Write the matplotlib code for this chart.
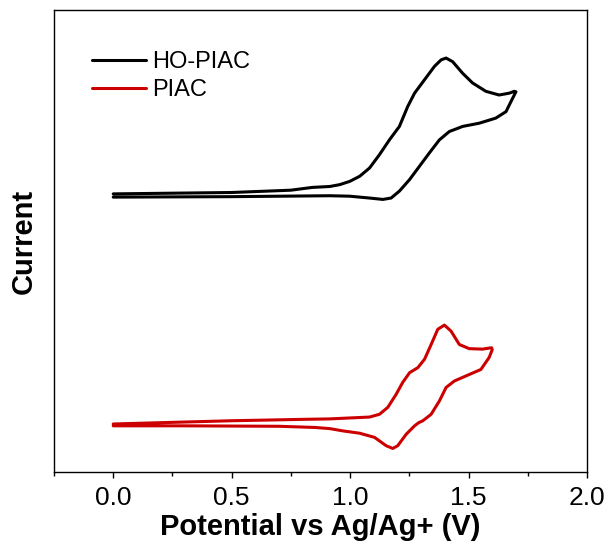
import matplotlib.pyplot as plt
from matplotlib.ticker import MultipleLocator

plt.rcParams['font.family'] = ['Liberation Sans', 'DejaVu Sans']

# HO-PIAC cyclic voltammogram (forward sweep then reverse), current in a.u.
ho_v = [0.0, 0.5, 0.75, 0.84, 0.914, 0.956, 0.998, 1.040, 1.082, 1.124, 1.166,
        1.208, 1.243, 1.272, 1.314, 1.356, 1.384, 1.405, 1.433, 1.475, 1.517,
        1.573, 1.629, 1.672, 1.693, 1.70,
        1.686, 1.658, 1.615, 1.545, 1.475, 1.419, 1.377, 1.335, 1.293, 1.251,
        1.208, 1.173, 1.138, 1.082, 0.998, 0.914, 0.5, 0.0]
ho_i = [60.2, 60.5, 61.0, 61.6, 61.8, 62.2, 62.9, 64.0, 65.8, 68.7, 71.9,
        74.8, 79.1, 82.0, 84.9, 87.8, 89.2, 89.6, 88.8, 86.3, 84.2,
        82.4, 81.6, 82.0, 82.4, 82.3,
        80.9, 78.0, 76.6, 75.5, 74.8, 73.7, 71.9, 69.1, 66.2, 63.3,
        60.8, 59.3, 59.0, 59.3, 59.7, 59.8, 59.6, 59.5]

# PIAC cyclic voltammogram
piac_v = [0.0, 0.5, 0.8, 0.914, 0.998, 1.082, 1.124, 1.159, 1.194, 1.222, 1.251,
          1.286, 1.314, 1.342, 1.370, 1.398, 1.426, 1.461, 1.503, 1.559, 1.597,
          1.60,
          1.587, 1.552, 1.489, 1.440, 1.405, 1.377, 1.342, 1.307, 1.290, 1.272,
          1.237, 1.201, 1.180, 1.152, 1.103, 1.040, 0.970, 0.914, 0.85, 0.7,
          0.3, 0.0]
piac_i = [10.4, 11.1, 11.4, 11.5, 11.7, 11.9, 12.5, 14.0, 16.8, 19.4, 21.5,
          22.6, 24.4, 27.6, 30.9, 31.8, 30.5, 27.6, 26.7, 26.6, 26.9,
          26.5,
          24.8, 22.2, 20.8, 19.7, 18.3, 15.4, 12.5, 11.1, 10.7, 10.0,
          8.2, 5.7, 5.1, 5.7, 7.5, 8.4, 8.9, 9.4, 9.65, 9.9,
          10.0, 10.0]

fig = plt.figure(figsize=(6.09, 5.49), dpi=100)
ax = fig.add_axes([0.0887, 0.1402, 0.8752, 0.8416])

ax.plot(ho_v, ho_i, color='black', lw=2.2, solid_joinstyle='round',
        solid_capstyle='round', label='HO-PIAC')
ax.plot(piac_v, piac_i, color='#cc0000', lw=2.2, solid_joinstyle='round',
        solid_capstyle='round', label='PIAC')

ax.set_xlim(-0.25, 2.0)
ax.set_ylim(0, 100)
ax.xaxis.set_major_locator(MultipleLocator(0.5))
ax.xaxis.set_minor_locator(MultipleLocator(0.25))
ax.set_yticks([])
ax.tick_params(axis='x', which='major', direction='out', length=4, width=1.0,
               labelsize=19, pad=6)
ax.tick_params(axis='x', which='minor', direction='out', length=3, width=1.0)
for s in ax.spines.values():
    s.set_linewidth(1.0)

ax.set_xlabel('Potential vs Ag/Ag+ (V)', fontsize=21, fontweight='bold', labelpad=2)
ax.set_ylabel('Current', fontsize=21, fontweight='bold', labelpad=12)

ax.legend(loc='upper left', bbox_to_anchor=(0.0713, 0.911), frameon=False,
          fontsize=17, handlelength=2.3, handletextpad=0.25, labelspacing=0.25,
          borderpad=0, borderaxespad=0)

fig.savefig('out.png', dpi=100)
